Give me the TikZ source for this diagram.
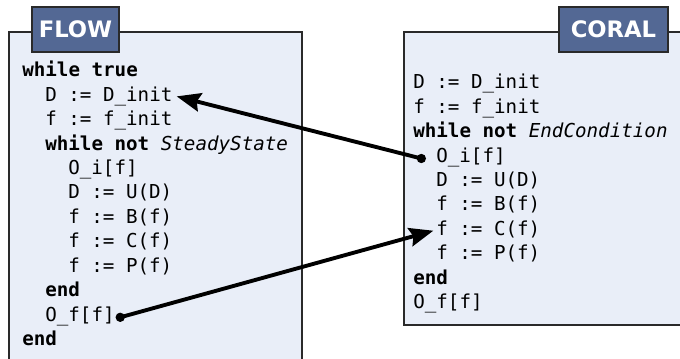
\documentclass[tikz,border=0pt]{standalone}
\usepackage{fontspec}
\setmainfont{DejaVu Sans}
\setmonofont{DejaVu Sans Mono}
\usetikzlibrary{arrows.meta}
\definecolor{boxfill}{HTML}{E9EEF8}
\definecolor{tabfill}{HTML}{536894}
\definecolor{edge}{HTML}{2A2A2A}
\begin{document}
\begin{tikzpicture}[x=0.75pt,y=-0.75pt,
  codeline/.style={anchor=base west,inner sep=0pt,font=\ttfamily\fontsize{14.4}{17}\selectfont},
  panel/.style={draw=edge,fill=boxfill,line width=1.2pt},
  tabbox/.style={draw=edge,fill=tabfill,line width=1.2pt,text=white,font=\bfseries\fontsize{17}{20}\selectfont,minimum width=87*0.75pt,minimum height=45*0.75pt,inner sep=0pt},
  link/.style={line width=2.9pt,-{Stealth[length=18pt,width=14pt,inset=2.5pt]}},
  dotc/.style={circle,fill=black,inner sep=0pt,minimum size=7pt}]
\useasboundingbox (0,0) rectangle (680,359);
\clip (0,0) rectangle (680,359);
% panels
\path[panel] (9,32) rectangle (302,380);
\path[panel] (404,32) rectangle (700,325);
\node[tabbox] (flowtab) at (75.5,29.5) {FLOW};
\node[tabbox,minimum width=109*0.75pt] (coraltab) at (613.5,29.5) {CORAL};
% left code
\def\L{24.4}
\node[codeline] (l1) at (22,77) {\textbf{while true}};
\node[codeline] (l2) at (45,77+\L) {D := D\_init};
\node[codeline] (l3) at (45,77+2*\L) {f := f\_init};
\node[codeline] (l4) at (45,77+3*\L) {\textbf{while not} \textit{SteadyState}};
\node[codeline] (l5) at (68,77+4*\L) {O\_i[f]};
\node[codeline] (l6) at (68,77+5*\L) {D := U(D)};
\node[codeline] (l7) at (68,77+6*\L) {f := B(f)};
\node[codeline] (l8) at (68,77+7*\L) {f := C(f)};
\node[codeline] (l9) at (68,77+8*\L) {f := P(f)};
\node[codeline] (l10) at (45,77+9*\L) {\textbf{end}};
\node[codeline] (l11) at (45,77+10*\L) {O\_f[f]};
\node[codeline] (l12) at (22,77+11*\L) {\textbf{end}};
% right code
\node[codeline] (r1) at (413,89) {D := D\_init};
\node[codeline] (r2) at (413,89+\L) {f := f\_init};
\node[codeline] (r3) at (413,89+2*\L) {\textbf{while not} \textit{EndCondition}};
\node[codeline] (r4) at (436,89+3*\L) {O\_i[f]};
\node[codeline] (r5) at (436,89+4*\L) {D := U(D)};
\node[codeline] (r6) at (436,89+5*\L) {f := B(f)};
\node[codeline] (r7) at (436,89+6*\L) {f := C(f)};
\node[codeline] (r8) at (436,89+7*\L) {f := P(f)};
\node[codeline] (r9) at (413,89+8*\L) {\textbf{end}};
\node[codeline] (r10) at (413,89+9*\L) {O\_f[f]};
% connectors
\node[dotc] (d1) at ([xshift=-11pt,yshift=-1pt]r4.west) {};
\node[dotc] (d2) at ([xshift=4pt,yshift=-1pt]l11.east) {};
\coordinate (t1) at ([xshift=3pt]l2.east);
\coordinate (t2) at ([xshift=-2pt,yshift=-1pt]r7.west);
\draw[link] (d1.center) -- (t1);
\draw[link] (d2.center) -- (t2);
\end{tikzpicture}
\end{document}
